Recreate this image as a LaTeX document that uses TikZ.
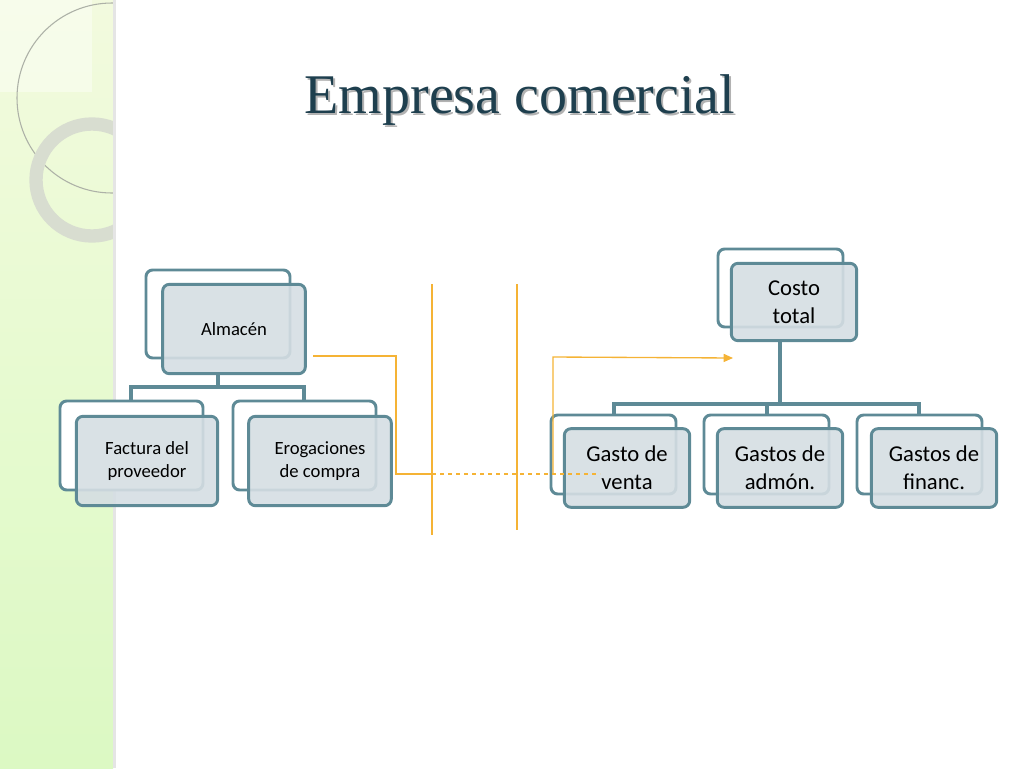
\documentclass[tikz,border=0pt]{standalone}
\usepackage{fontspec}
\setmainfont{Carlito}
\newfontfamily\titlefont{Liberation Serif}
\usetikzlibrary{arrows.meta,positioning,calc}
\definecolor{boxedge}{HTML}{5E8A96}
\definecolor{boxfill}{HTML}{D5DEE3}
\definecolor{lineorange}{HTML}{F5B335}
\definecolor{titleteal}{HTML}{1E3F4E}
\definecolor{bandgreen}{HTML}{EAF7C8}
\definecolor{ringgray}{HTML}{D8DDD0}

\begin{document}
\begin{tikzpicture}[x=0.75pt,y=-0.75pt,
  backbox/.style={draw=boxedge,line width=2.2pt,rounded corners=5pt,fill=white},
  frontbox/.style={draw=boxedge,line width=2.2pt,rounded corners=5pt,fill=boxfill,fill opacity=0.9,
                   text opacity=1,align=center},
  tree/.style={draw=boxedge,line width=2.6pt},
  link/.style={draw=lineorange,line width=1pt}
]
\useasboundingbox (0,0) rectangle (1024,768);

% ---- Left band ------------------------------------------------
\shade[top color=bandgreen!60,bottom color=bandgreen!90!green!80] (0,0) rectangle (113,768);
\fill[white,opacity=0.4] (0,0) rectangle (92,92);
\begin{scope}
  \clip (0,0) rectangle (113,768);
  \draw[ringgray!80!black,line width=0.8pt] (112,98) circle (95);
  \draw[ringgray,line width=10pt] (92,180) circle (56);
\end{scope}
\fill[black!10] (113,0) rectangle (116,768);

% ---- Title ----------------------------------------------------
\node[font=\titlefont\fontsize{42}{48}\selectfont,text=black!30] at (522,102) {Empresa comercial};
\node[font=\titlefont\fontsize{42}{48}\selectfont,text=titleteal] (title) at (520,100) {Empresa comercial};

% ---- Left tree ------------------------------------------------
\draw[tree] (218,374) -- (218,387);
\draw[tree] (131,401) -- (131,387) -- (304,387) -- (304,401);
\draw[backbox] (146,270) rectangle (290,358);
\node[frontbox,minimum width=107pt,minimum height=67pt,font=\fontsize{14}{17}\selectfont] (alm) at (234,329) {Almacén};
\draw[backbox] (60,401) rectangle (203,490);
\node[frontbox,minimum width=106pt,minimum height=67pt,font=\fontsize{14}{17}\selectfont] (fac) at (147,461) {Factura del\\proveedor};
\draw[backbox] (233,401) rectangle (376,490);
\node[frontbox,minimum width=107pt,minimum height=67pt,font=\fontsize{14}{17}\selectfont] (ero) at (320,461) {Erogaciones\\de compra};

% ---- Right tree -----------------------------------------------
\draw[tree] (780,341) -- (780,404);
\draw[tree] (614,415) -- (614,404) -- (919,404) -- (919,415);
\draw[tree] (767,404) -- (767,415);
\draw[backbox] (718,249) rectangle (843,327);
\node[frontbox,minimum width=94pt,minimum height=58pt,font=\fontsize{17}{21}\selectfont] (costo) at (794,302) {Costo\\total};
\draw[backbox] (551,415) rectangle (676,494);
\node[frontbox,minimum width=94pt,minimum height=59pt,font=\fontsize{17}{21}\selectfont] (venta) at (627,468) {Gasto de\\venta};
\draw[backbox] (704,415) rectangle (829,494);
\node[frontbox,minimum width=94pt,minimum height=59pt,font=\fontsize{17}{21}\selectfont] (admon) at (780,468) {Gastos de\\admón.};
\draw[backbox] (857,415) rectangle (982,494);
\node[frontbox,minimum width=94pt,minimum height=59pt,font=\fontsize{17}{21}\selectfont] (financ) at (934,468) {Gastos de\\financ.};

% ---- Orange links ---------------------------------------------
\coordinate (sepa) at (432,474);
\draw[link] (432,284) -- (432,535);
\draw[link] (517,284) -- (517,530);
\draw[link] (313,356) -- (396,356) -- (396,474) -- (sepa);
\draw[link,dashed] (sepa) -- (600,474);
\draw[link,-{Triangle[length=7pt,width=6pt]}] (553,474) -- (553,357) -- (733,358);

\end{tikzpicture}
\end{document}
